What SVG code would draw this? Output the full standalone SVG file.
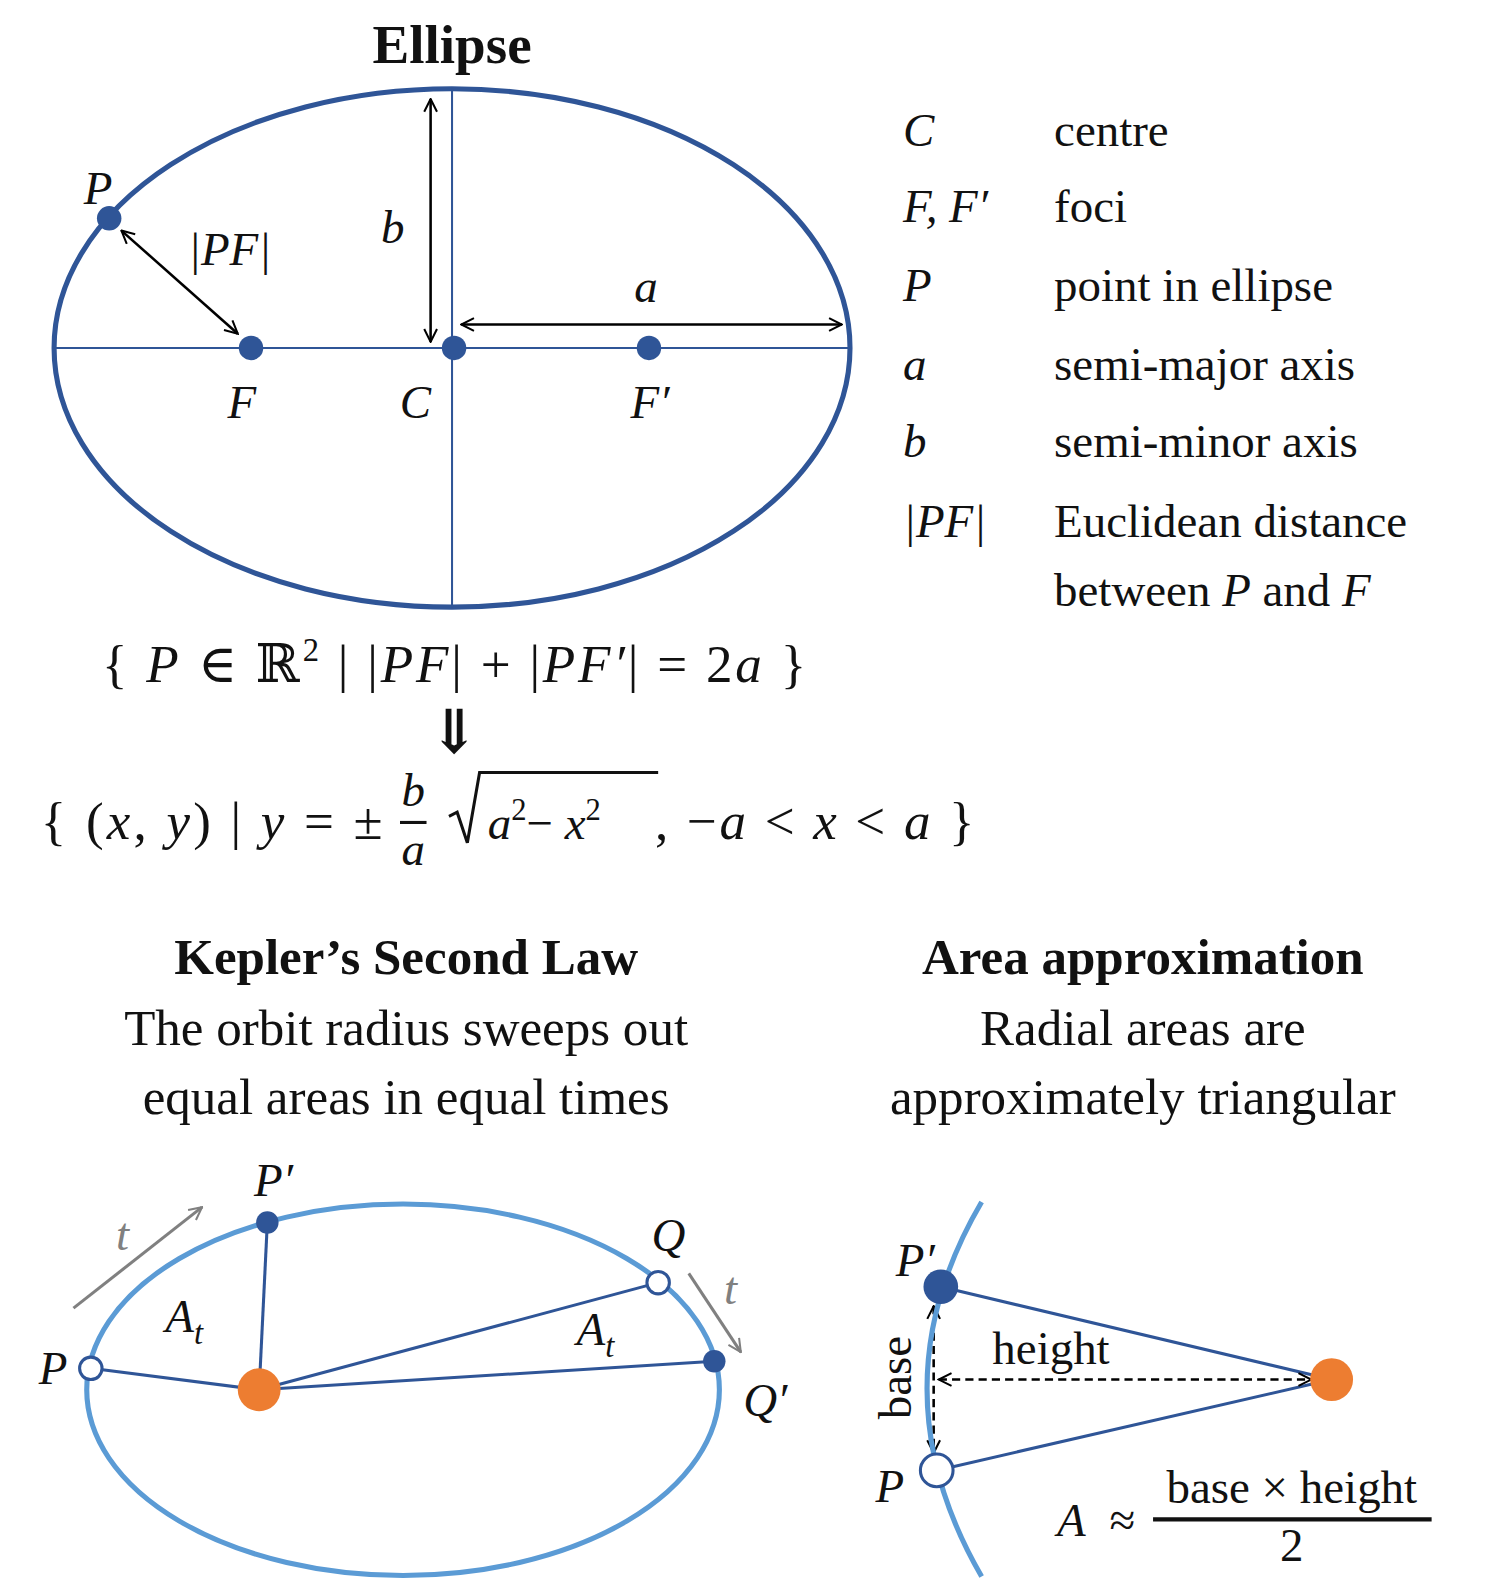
<svg xmlns="http://www.w3.org/2000/svg" width="1500" height="1594" viewBox="0 0 1500 1594">
<style>
text{font-family:"Liberation Serif","DejaVu Serif",serif;fill:#111}
.i{font-style:italic}
.t{font-size:46px}
.f{font-size:52px}
.h{font-size:50px;font-weight:bold}
.s{font-size:50px}
.dk{stroke:#2F5597;fill:none}
.fd{fill:#2F5597}
.op{fill:#fff;stroke:#2F5597;stroke-width:3}
.sun{fill:#ED7D31}
.ar{stroke:#000;stroke-width:2.5;fill:none;marker-start:url(#ah);marker-end:url(#ah)}
.da{stroke:#000;stroke-width:2.5;fill:none;stroke-dasharray:8 5;marker-start:url(#ah);marker-end:url(#ah)}
.gr{stroke:#808080;stroke-width:3;fill:none;marker-end:url(#ag)}
</style>
<defs>
<marker id="ah" viewBox="0 0 12 12" refX="11" refY="6" markerWidth="6" markerHeight="6" orient="auto-start-reverse" markerUnits="strokeWidth"><path d="M1 1L11 6L1 11" fill="none" stroke="#000" stroke-width="1.6"/></marker>
<marker id="ag" viewBox="0 0 12 12" refX="11" refY="6" markerWidth="5" markerHeight="5" orient="auto" markerUnits="strokeWidth"><path d="M1 1L11 6L1 11" fill="none" stroke="#808080" stroke-width="1.6"/></marker>
</defs>
<g transform="scale(1.0204)">
<g id="ellipse">
<text x="443" y="62" text-anchor="middle" class="h" style="font-size:54px">Ellipse</text>
<ellipse cx="443" cy="341" rx="390" ry="254" class="dk" stroke-width="5"/>
<line x1="53" y1="341" x2="833" y2="341" class="dk" stroke-width="2"/>
<line x1="443" y1="87" x2="443" y2="595" class="dk" stroke-width="2"/>
</g>
<g id="connectors">
<line x1="422" y1="97" x2="422" y2="335" class="ar"/>
<line x1="452" y1="318" x2="825" y2="318" class="ar"/>
<line x1="119" y1="226" x2="233" y2="327" class="ar"/>
<line x1="254" y1="1362" x2="89" y2="1341" class="dk" stroke-width="3"/>
<line x1="254" y1="1362" x2="262" y2="1198" class="dk" stroke-width="3"/>
<line x1="254" y1="1362" x2="645" y2="1257" class="dk" stroke-width="3"/>
<line x1="254" y1="1362" x2="700" y2="1334" class="dk" stroke-width="3"/>
<line x1="72" y1="1282" x2="198" y2="1183" class="gr"/>
<line x1="675" y1="1248" x2="726" y2="1325" class="gr"/>
<line x1="922" y1="1261" x2="1305" y2="1352" class="dk" stroke-width="3"/>
<line x1="918" y1="1441" x2="1305" y2="1352" class="dk" stroke-width="3"/>
<line x1="915" y1="1280" x2="915" y2="1424" class="da"/>
<line x1="920" y1="1352" x2="1285" y2="1352" class="da"/>
</g>
<g id="ellipse-points">
<circle cx="246" cy="341" r="12" class="fd"/>
<circle cx="445" cy="341" r="12" class="fd"/>
<circle cx="636" cy="341" r="12" class="fd"/>
<circle cx="107" cy="214" r="12" class="fd"/>
<text x="82" y="200" class="t i">P</text>
<text x="225" y="260" class="t i" text-anchor="middle">|PF|</text>
<text x="385" y="238" class="t i" text-anchor="middle">b</text>
<text x="633" y="296" class="t i" text-anchor="middle">a</text>
<text x="237" y="410" class="t i" text-anchor="middle">F</text>
<text x="407" y="410" class="t i" text-anchor="middle">C</text>
<text x="637" y="410" class="t i" text-anchor="middle">F′</text>
</g>
<g id="legend" class="t">
<text x="885" y="143" class="i">C</text><text x="1033" y="143">centre</text>
<text x="885" y="218" class="i">F, F′</text><text x="1033" y="218">foci</text>
<text x="885" y="295" class="i">P</text><text x="1033" y="295">point in ellipse</text>
<text x="885" y="372" class="i">a</text><text x="1033" y="372">semi-major axis</text>
<text x="885" y="448" class="i">b</text><text x="1033" y="448">semi-minor axis</text>
<text x="885" y="526" class="i">|PF|</text><text x="1033" y="526">Euclidean distance</text>
<text x="1033" y="594">between <tspan class="i">P</tspan> and <tspan class="i">F</tspan></text>
</g>
<g id="formulas" class="f">
<text x="100" y="668" textLength="690" lengthAdjust="spacing">{ <tspan class="i">P</tspan> ∈ ℝ<tspan dy="-20" style="font-size:32px">2</tspan><tspan dy="20"> | |</tspan><tspan class="i">PF</tspan>| + |<tspan class="i">PF′</tspan>| = 2<tspan class="i">a</tspan> }</text>
<text x="445" y="738" text-anchor="middle" style="font-size:60px;font-weight:bold">⇓</text>
<text x="40" y="822" textLength="335" lengthAdjust="spacing">{ (<tspan class="i">x</tspan>, <tspan class="i">y</tspan>) | <tspan class="i">y</tspan> = ±</text>
<text x="405" y="790" text-anchor="middle" class="i t">b</text>
<line x1="392" y1="806" x2="418" y2="806" stroke="#111" stroke-width="3"/>
<text x="405" y="848" text-anchor="middle" class="i t">a</text>
<path d="M440 800L448 796L458 826L470 757L645 757" fill="none" stroke="#111" stroke-width="3"/>
<text x="478" y="822" class="t"><tspan class="i">a</tspan><tspan dy="-18" style="font-size:30px">2</tspan><tspan dy="18">− </tspan><tspan class="i">x</tspan><tspan dy="-18" style="font-size:30px">2</tspan></text>
<text x="642" y="822" textLength="313" lengthAdjust="spacing">, −<tspan class="i">a</tspan> &lt; <tspan class="i">x</tspan> &lt; <tspan class="i">a</tspan> }</text>
</g>
<g id="kepler">
<text x="398" y="955" text-anchor="middle" class="h">Kepler’s Second Law</text>
<text x="398" y="1024" text-anchor="middle" class="s">The orbit radius sweeps out</text>
<text x="398" y="1092" text-anchor="middle" class="s">equal areas in equal times</text>
<ellipse cx="395" cy="1362" rx="310" ry="182" fill="none" stroke="#5B9BD5" stroke-width="5"/>
<circle cx="254" cy="1362" r="21" class="sun"/>
<circle cx="89" cy="1341" r="11" class="op"/>
<circle cx="262" cy="1198" r="11" class="fd"/>
<circle cx="645" cy="1257" r="11" class="op"/>
<circle cx="700" cy="1334" r="11" class="fd"/>
<text x="52" y="1356" class="t i" text-anchor="middle">P</text>
<text x="268" y="1172" class="t i" text-anchor="middle">P′</text>
<text x="655" y="1226" class="t i" text-anchor="middle">Q</text>
<text x="750" y="1388" class="t i" text-anchor="middle">Q′</text>
<text x="120" y="1225" class="t i" style="fill:#808080" text-anchor="middle">t</text>
<text x="716" y="1278" class="t i" style="fill:#808080" text-anchor="middle">t</text>
<text x="162" y="1305" class="t i">A<tspan dy="12" style="font-size:32px">t</tspan></text>
<text x="565" y="1318" class="t i">A<tspan dy="12" style="font-size:32px">t</tspan></text>
</g>
<g id="area">
<text x="1120" y="955" text-anchor="middle" class="h">Area approximation</text>
<text x="1120" y="1024" text-anchor="middle" class="s">Radial areas are</text>
<text x="1120" y="1092" text-anchor="middle" class="s">approximately triangular</text>
<path d="M962 1178Q855 1360 962 1545" fill="none" stroke="#5B9BD5" stroke-width="5"/>
<circle cx="922" cy="1261" r="17" class="fd"/>
<circle cx="918" cy="1441" r="16" class="op"/>
<circle cx="1305" cy="1352" r="21" class="sun"/>
<text x="897" y="1250" class="t i" text-anchor="middle">P′</text>
<text x="872" y="1472" class="t i" text-anchor="middle">P</text>
<text transform="translate(893 1350) rotate(-90)" text-anchor="middle" class="t">base</text>
<text x="1030" y="1337" text-anchor="middle" class="t">height</text>
<text x="1050" y="1505" class="t i" text-anchor="middle">A</text>
<text x="1100" y="1505" class="t" text-anchor="middle">≈</text>
<text x="1266" y="1473" class="t" text-anchor="middle">base × height</text>
<line x1="1130" y1="1489" x2="1403" y2="1489" stroke="#111" stroke-width="4"/>
<text x="1266" y="1530" class="t" text-anchor="middle">2</text>
</g>
</g>
</svg>
